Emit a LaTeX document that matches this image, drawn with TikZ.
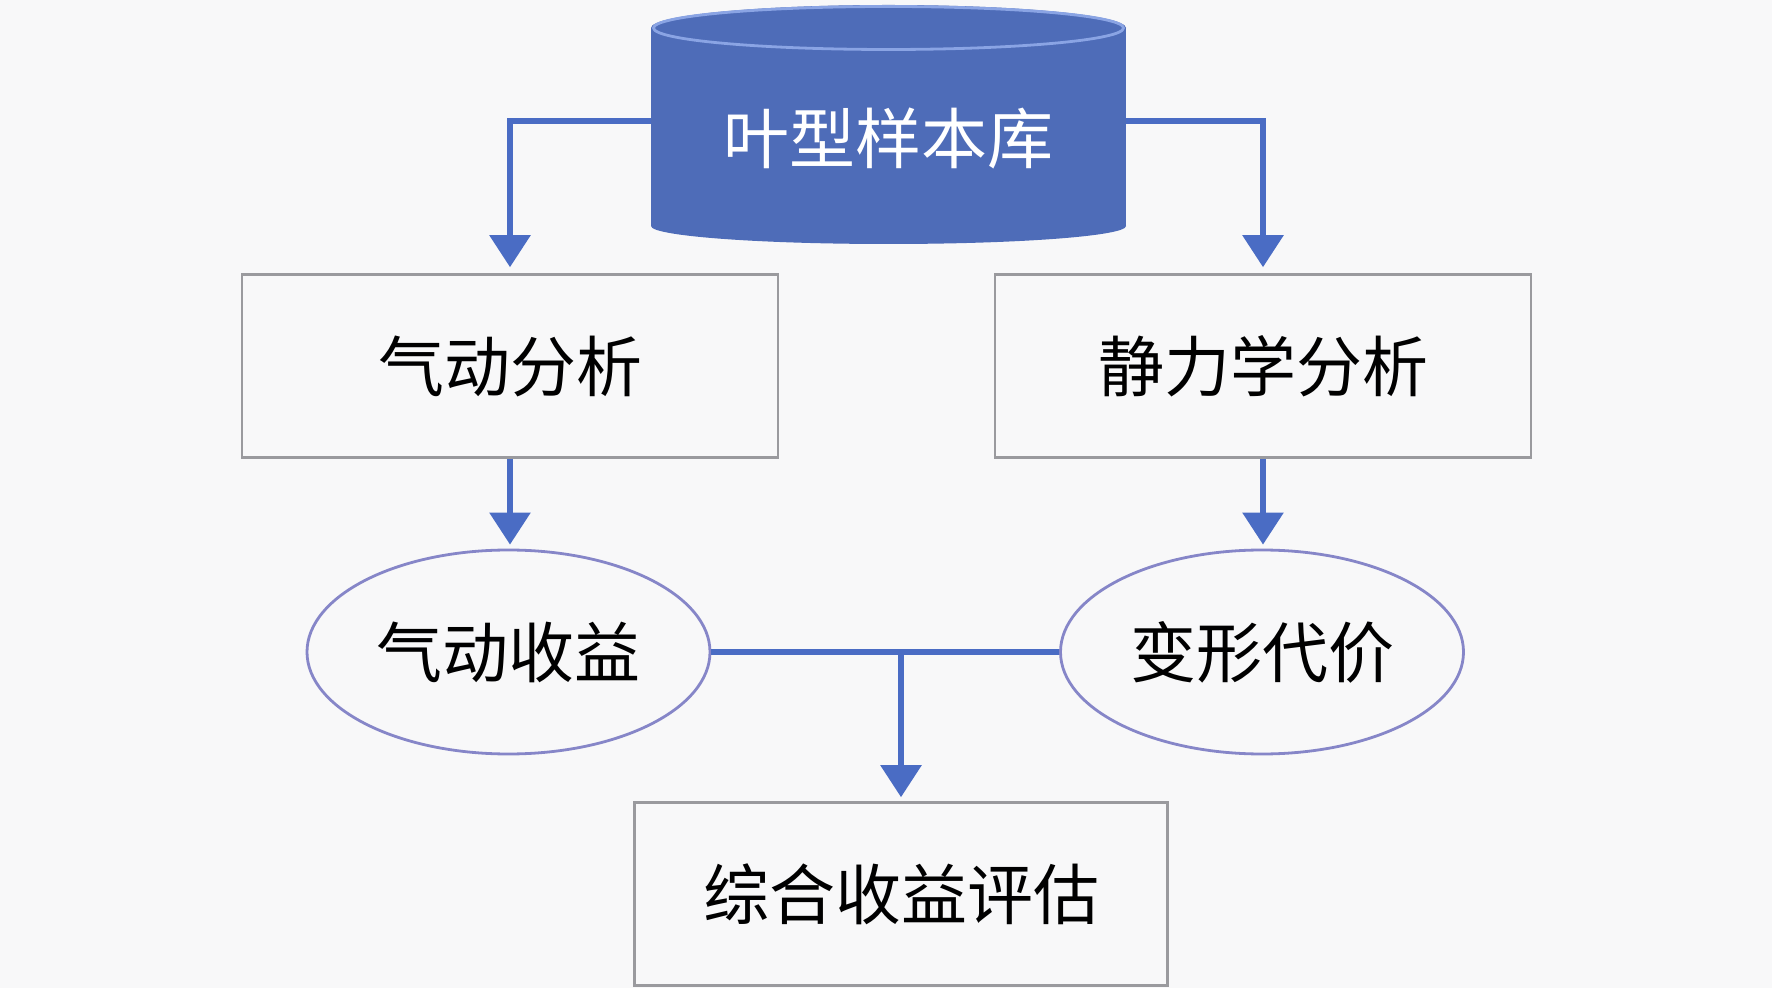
\documentclass[tikz,border=0pt]{standalone}
\usepackage{fontspec}
\newfontfamily\cjk{Noto Sans CJK SC}
\usetikzlibrary{arrows.meta,shapes.geometric}
\definecolor{bgc}{HTML}{F8F8F9}
\definecolor{lineblue}{HTML}{4A6CC4}
\definecolor{cylfill}{HTML}{4E6CB8}
\definecolor{cyledge}{HTML}{8AA4E4}
\definecolor{boxedge}{HTML}{9A9A9E}
\definecolor{elledge}{HTML}{8686C8}
\begin{document}
\begin{tikzpicture}[x=0.5pt,y=-0.5pt,
  lbl/.style={font=\cjk\fontsize{33pt}{39pt}\selectfont, text=black},
  rbox/.style={lbl, draw=boxedge, line width=1.3pt, fill=bgc, minimum width=268pt, minimum height=91.5pt, inner sep=0pt},
  ebox/.style={lbl, ellipse, draw=elledge, line width=1.4pt, fill=bgc, minimum width=201.5pt, minimum height=102pt, inner sep=0pt},
  conn/.style={draw=lineblue, line width=2.9pt},
  arr/.style={conn, -{Triangle[width=20pt,length=16pt]}}]
\fill[bgc] (0,0) rectangle (1772,988);
\useasboundingbox (0,0) rectangle (1772,988);
% cylinder
\fill[cylfill] (651,28) rectangle (1126,226);
\fill[cylfill] (888.5,226) ellipse [x radius=237.5, y radius=18];
\fill[cylfill] (888.5,28) ellipse [x radius=237.5, y radius=23];
\draw[cyledge, line width=1.4pt] (888.5,28) ellipse [x radius=235, y radius=21.5];
\node[lbl, text=white] (db) at (888.5,138) {叶型样本库};
\coordinate (dbL) at (651,121);
\coordinate (dbR) at (1126,121);
% boxes
\node[rbox] (aero) at (510,366) {气动分析};
\node[rbox] (stat) at (1263,366) {静力学分析};
\node[ebox] (gain) at (508.5,652) {气动收益};
\node[ebox] (cost) at (1262,652) {变形代价};
\node[rbox, minimum width=266.5pt] (eval) at (901,894) {综合收益评估};
% connectors
\draw[arr] (dbL) -| ([yshift=3pt]aero.north);
\draw[arr] (dbR) -| ([yshift=3pt]stat.north);
\draw[arr] (aero.south) -- ([yshift=2pt]aero.south |- gain.north);
\draw[arr] (stat.south) -- ([yshift=2pt]stat.south |- cost.north);
\draw[conn] (gain.east) -- (cost.west);
\draw[arr] (gain.east -| eval.north) -- ([yshift=2pt]eval.north);
\end{tikzpicture}
\end{document}
